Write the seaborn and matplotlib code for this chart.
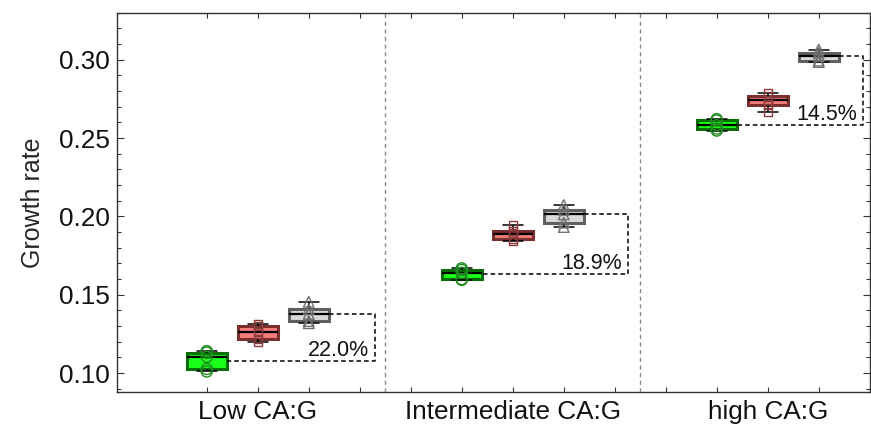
import numpy as np
import pandas as pd
import matplotlib
matplotlib.use("Agg")
import matplotlib.pyplot as plt
import seaborn as sns
from matplotlib.ticker import MultipleLocator, FixedLocator, FormatStrFormatter

# ---- data -------------------------------------------------------------
conditions = ["Low CA:G", "Intermediate CA:G", "high CA:G"]
series = ["Strain A", "Strain B", "Strain C"]

low_a = [0.1010, 0.1026, 0.1104, 0.1130, 0.1140]
low_b = [0.1198, 0.1217, 0.1260, 0.1300, 0.1315]
low_c = [0.1318, 0.1332, 0.1377, 0.1407, 0.1455]

mid_a = [0.1595, 0.1600, 0.1640, 0.1658, 0.1668]
mid_b = [0.1842, 0.1854, 0.1888, 0.1909, 0.1943]
mid_c = [0.1932, 0.1960, 0.2013, 0.2041, 0.2072]

high_a = [0.2548, 0.2560, 0.2582, 0.2612, 0.2620]
high_b = [0.2665, 0.2711, 0.2743, 0.2771, 0.2790]
high_c = [0.2985, 0.2994, 0.3024, 0.3045, 0.3065]

# relative drop of strain A versus strain C, in percent
reduction_pct = [22.0, 18.9, 14.5]

# ---- styling ----------------------------------------------------------
face_colors = ["#19ff19", "#f47c7c", "#d9d9d9"]
edge_colors = ["#067006", "#7a2e2e", "#606060"]
marker_colors = ["#1e8c1e", "#8a3c3c", "#707070"]
markers = ["o", "s", "^"]
marker_sizes = [64, 32, 58]
box_width = 0.78
bracket_right = [4.30, 9.27, 13.87]

sns.set_style("ticks")
plt.rcParams["font.family"] = ["Liberation Sans", "DejaVu Sans"]

groups = [[low_a, low_b, low_c], [mid_a, mid_b, mid_c], [high_a, high_b, high_c]]
rows = []
for g, trio in enumerate(groups):
    for k, vals in enumerate(trio):
        pos = 1 + 5 * g + k
        for v in vals:
            rows.append({"pos": pos, "rate": v, "series": series[k], "condition": conditions[g]})
df = pd.DataFrame(rows)

fig, ax = plt.subplots(figsize=(8.71, 4.28), dpi=100)
fig.subplots_adjust(left=0.1343, right=0.9985, bottom=0.0841, top=0.9703)

sns.boxplot(
    data=df, x="pos", y="rate", hue="series", native_scale=True,
    palette=dict(zip(series, face_colors)), saturation=1, width=box_width,
    linecolor="black", linewidth=1.1, showfliers=False, legend=False,
    medianprops={"linewidth": 1.6}, ax=ax,
)

# colour box outlines per series
face_to_edge = {tuple(np.round(matplotlib.colors.to_rgb(f), 3)): e for f, e in zip(face_colors, edge_colors)}
for patch in ax.patches:
    key = tuple(np.round(patch.get_facecolor()[:3], 3))
    if key in face_to_edge:
        patch.set_edgecolor(face_to_edge[key])
        patch.set_linewidth(2.2)

# hollow replicate markers on top of the boxes
for name, mk, sz, mc in zip(series, markers, marker_sizes, marker_colors):
    sub = df[df["series"] == name]
    sns.scatterplot(data=sub, x="pos", y="rate", marker=mk, s=sz, color=mc, ax=ax,
                    legend=False, zorder=4)
    coll = ax.collections[-1]
    coll.set_facecolor("none")
    coll.set_edgecolor(mc)
    coll.set_linewidth(1.0)

# dividers between conditions
for xd in [4.5, 9.5]:
    ax.axvline(xd, color="#8c8c8c", linestyle=(0, (3, 2.5)), linewidth=1.0, zorder=1)

# brackets showing the relative difference between strain A and strain C
for g, pct in enumerate(reduction_pct):
    pos_a = 1 + 5 * g
    pos_c = pos_a + 2
    top = float(np.median(groups[g][2]))
    bottom = top * (1 - pct / 100.0)
    xr = bracket_right[g]
    ax.plot([pos_c + box_width / 2, xr, xr, pos_a + box_width / 2],
            [top, top, bottom, bottom],
            color="black", linestyle=(0, (3, 2)), linewidth=1.1, zorder=2)
    ax.annotate(f"{pct:.1f}%", xy=(xr, bottom), xytext=(-6, 5),
                textcoords="offset pixels", ha="right", va="baseline",
                fontsize=15.5, color="#111111")

# axes
ax.set_xlim(-0.76, 14.0)
ax.set_ylim(0.0879, 0.330)
ax.xaxis.set_major_locator(FixedLocator(list(range(1, 14))))
labels = [""] * 13
for g, name in enumerate(conditions):
    labels[1 + 5 * g] = name
ax.set_xticklabels(labels)
ax.yaxis.set_major_locator(MultipleLocator(0.05))
ax.yaxis.set_minor_locator(MultipleLocator(0.01))
ax.yaxis.set_major_formatter(FormatStrFormatter("%.2f"))
ax.set_xlabel("")
ax.set_ylabel("Growth rate", fontsize=18, labelpad=10)

ax.tick_params(axis="both", which="both", direction="in", top=True, right=True,
               colors="#333333", labelcolor="#111111")
ax.tick_params(axis="x", which="major", length=3.5, width=0.8, labelsize=18.8, pad=6)
ax.tick_params(axis="y", which="major", length=5, width=0.8, labelsize=18.8, pad=5)
ax.tick_params(axis="y", which="minor", length=3, width=0.8)
for sp in ax.spines.values():
    sp.set_visible(True)
    sp.set_color("#333333")
    sp.set_linewidth(1.0)

fig.savefig("out.png", dpi=100)
